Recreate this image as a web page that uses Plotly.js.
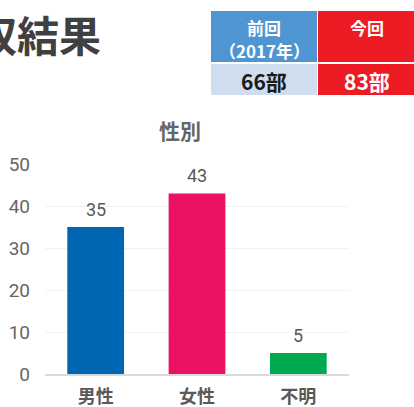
<!DOCTYPE html>
<html>
<head>
<meta charset="utf-8">
<script src="https://cdn.plot.ly/plotly-3.0.1.min.js"></script>
<style>html,body{margin:0;padding:0;background:#fff;}#chart{width:414px;height:407px;}</style>
</head>
<body>
<div id="chart"></div>
<script>
const categories = ["男性", "女性", "不明"];
const counts = [35, 43, 5];
const barColors = ["#0068B3", "#EC1164", "#00A94F"];
const chartTitle = "性別";
const pageTitle = "回収結果";
const prevHeaderLines = ["前回", "（2017年）"];
const currHeader = "今回";
const tableValues = ["66部", "83部"];
const yTicks = [0, 10, 20, 30, 40, 50];

const FONT = "'Noto Sans CJK JP', 'Noto Sans', sans-serif";
const NUMFONT = "Roboto, 'Noto Sans CJK JP', sans-serif";

// paper coordinate helpers (plot area: x 45..349, y 164..374)
const L = 45, R = 349, T = 164, B = 374;
const px = v => (v - L) / (R - L);
const py = v => (B - v) / (B - T);

const trace = {
  type: "bar",
  x: categories,
  y: counts,
  marker: {color: barColors},
  hoverinfo: "none"
};

const annotations = counts.map((v, i) => ({
  x: categories[i], y: v, xref: "x", yref: "y",
  text: String(v), showarrow: false, yanchor: "bottom", yshift: 5,
  font: {family: NUMFONT, size: 18, color: "#595959"}
}));

annotations.push({
  xref: "paper", yref: "paper", x: px(103), y: py(33), xanchor: "right", yanchor: "middle",
  text: "<b>" + pageTitle + "</b>", showarrow: false,
  font: {family: FONT, size: 42, color: "#404040"}
});

// table texts
const colCenters = [264, 367];
const headerFont = {family: FONT, size: 17, color: "#ffffff"};
[27, 50].forEach((yy, j) => {
  annotations.push({
    xref: "paper", yref: "paper", x: px(colCenters[0]), y: py(yy),
    xanchor: "center", yanchor: "middle", text: "<b>" + prevHeaderLines[j] + "</b>",
    showarrow: false, font: headerFont, height: 20, borderpad: 0
  });
});
annotations.push({
  xref: "paper", yref: "paper", x: px(colCenters[1]), y: py(27),
  xanchor: "center", yanchor: "middle", text: "<b>" + currHeader + "</b>",
  showarrow: false, font: headerFont, height: 20, borderpad: 0
});
tableValues.forEach((t, i) => {
  annotations.push({
    xref: "paper", yref: "paper", x: px(colCenters[i]), y: py(81),
    xanchor: "center", yanchor: "middle", text: "<b>" + t + "</b>", showarrow: false,
    font: {family: FONT, size: 21, color: i === 0 ? "#1a1a1a" : "#ffffff"}
  });
});

const rect = (x0, x1, y0, y1, c) => ({
  type: "rect", xref: "paper", yref: "paper",
  x0: px(x0), x1: px(x1), y0: py(y1), y1: py(y0),
  fillcolor: c, line: {width: 0}, layer: "below"
});
const shapes = [
  rect(211, 317, 11, 62, "#4F95D2"),
  rect(318, 416, 11, 62, "#ED1C24"),
  rect(211, 317, 64, 95, "#CFDDEE"),
  rect(318, 416, 64, 95, "#ED1C24")
];

const layout = {
  width: 414, height: 407,
  margin: {l: L, r: 414 - R, t: T, b: 407 - B, pad: 0},
  paper_bgcolor: "#ffffff", plot_bgcolor: "rgba(0,0,0,0)",
  showlegend: false,
  bargap: 0.44,
  title: {
    text: "<b>" + chartTitle + "</b>",
    xref: "container", yref: "container",
    x: 180 / 414, y: 1 - 132 / 407, xanchor: "center", yanchor: "middle",
    font: {family: FONT, size: 21, color: "#666666"}
  },
  xaxis: {
    type: "category",
    showgrid: false, zeroline: false,
    showline: true, linecolor: "#d9d9d9", linewidth: 1.5,
    ticks: "", ticklabelstandoff: 6,
    tickfont: {family: FONT, size: 18, color: "#595959", weight: "bold"},
    fixedrange: true
  },
  yaxis: {
    range: [0, 50], tickvals: yTicks, ticktext: yTicks.map(String),
    showgrid: true, gridcolor: "#f2f2f2", gridwidth: 1,
    zeroline: false, showline: false, ticks: "",
    ticklabelstandoff: 14,
    tickfont: {family: NUMFONT, size: 19, color: "#666666"},
    fixedrange: true
  },
  annotations: annotations,
  shapes: shapes
};

Plotly.newPlot("chart", [trace], layout, {displayModeBar: false, staticPlot: true});
</script>
</body>
</html>
